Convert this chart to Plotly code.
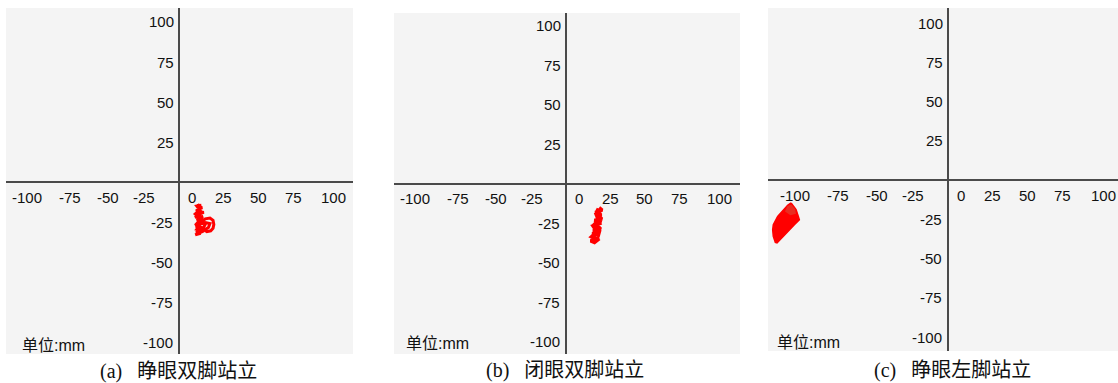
import plotly.graph_objects as go

W, H = 1118, 383

# Tick values shown along each axis
x_ticks = [-100, -75, -50, -25, 0, 25, 50, 75, 100]
y_ticks = [100, 75, 50, 25, -25, -50, -75, -100]

captions = ["(a)\u00a0\u00a0\u00a0睁眼双脚站立", "(b)\u00a0\u00a0\u00a0闭眼双脚站立", "(c)\u00a0\u00a0\u00a0睁眼左脚站立"]
unit_label = "单位:mm"

# (a) eyes open, both feet: centre-of-pressure path (mm)
a_x = [13.5, 11.5, 15.0, 11.0, 16.0, 12.0, 10.5, 15.5, 11.5, 16.5, 12.0, 10.5, 15.0, 16.5,
       11.0, 16.0, 12.5, 17.0, 20.0, 22.0, 22.5, 22.0, 20.5, 18.0, 16.5, 19.0, 20.0, 17.5,
       15.0, 11.0, 14.0, 10.5, 16.0, 11.5, 15.5, 10.5, 13.5, 11.5, 14.5]
a_y = [-14.0, -15.5, -16.0, -18.0, -19.0, -20.5, -22.0, -21.5, -24.0, -23.5, -25.5, -27.0,
       -26.0, -24.5, -28.5, -29.0, -27.5, -23.0, -22.5, -24.0, -26.5, -29.0, -30.5, -31.0,
       -30.0, -28.5, -26.0, -25.5, -30.0, -31.5, -32.0, -33.0, -30.5, -29.5, -24.0, -20.0,
       -17.5, -15.0, -14.5]

# (b) eyes closed, both feet
b_x = [21.5, 23.5, 19.0, 23.0, 19.5, 23.5, 18.5, 22.0, 23.0, 18.0, 21.0, 22.5, 17.5, 21.5,
       17.0, 21.0, 22.0, 16.5, 19.5, 21.5, 16.0, 18.5, 20.5, 17.0, 20.0, 17.5, 22.0, 19.5,
       22.5, 19.5]
b_y = [-15.0, -16.5, -18.0, -19.5, -21.0, -22.0, -23.0, -24.5, -21.0, -26.0, -27.0, -28.5,
       -29.5, -30.5, -31.5, -32.5, -29.0, -33.5, -35.0, -34.0, -36.0, -37.0, -35.5, -33.0,
       -30.0, -26.5, -25.0, -19.0, -17.5, -16.0]

# (c) eyes open, left foot: dense sway region outline
c_x = [-100.6, -97.4, -96.0, -95.3, -98.5, -101.7, -104.9, -108.1, -109.6, -110.7, -112.0,
       -112.4, -112.0, -109.2, -106.0, -102.8, -100.6]
c_y = [-14.6, -18.9, -23.1, -25.3, -28.5, -31.7, -34.8, -38.0, -40.1, -39.7, -35.9, -31.7,
       -28.5, -23.1, -19.9, -16.1, -14.6]
# overlapping darker patch near the top of (c)
c2_x = [-100.5, -98.0, -97.5, -101.0, -104.5, -103.0, -100.5]
c2_y = [-15.5, -18.5, -21.5, -22.5, -20.0, -16.5, -15.5]

# panel boxes in pixels: left, top, right, bottom, and axis ranges
panels = [
    dict(box=(6, 8, 353, 354), xr=(-111.6, 112.3), yr=(-107.5, 108.75)),
    dict(box=(394, 13, 740, 354), xr=(-111.7, 113.0), yr=(-107.6, 108.2)),
    dict(box=(768, 8, 1118, 351), xr=(-115.4, 109.0), yr=(-108.9, 109.6)),
]
caption_pos = [(178, 371), (565, 370), (952, 370)]
unit_pos = [(20, 345), (404, 343), (775, 342)]
x_label_shift = [3, 7, 7, 4, 13, 6, 2, -2, 0]

TICK_FONT = dict(family="Liberation Sans, Arial, sans-serif", size=15, color="#111111")
RED = "#ff0000"

fig = go.Figure()

paths = [(a_x, a_y, 3), (b_x, b_y, 3.5)]
for i, (px, py, lw) in enumerate(paths):
    sfx = "" if i == 0 else str(i + 1)
    fig.add_trace(go.Scatter(x=px, y=py, mode="lines", xaxis="x" + sfx, yaxis="y" + sfx,
                             line=dict(color=RED, width=lw),
                             showlegend=False, hoverinfo="skip"))

fig.add_trace(go.Scatter(x=c_x, y=c_y, mode="lines", fill="toself", fillcolor=RED,
                         line=dict(color=RED, width=1.5), xaxis="x3", yaxis="y3",
                         showlegend=False, hoverinfo="skip"))
fig.add_trace(go.Scatter(x=c2_x, y=c2_y, mode="lines", fill="toself",
                         fillcolor="rgba(200,110,80,0.4)", line=dict(width=0),
                         xaxis="x3", yaxis="y3", showlegend=False, hoverinfo="skip"))

layout = dict(width=W, height=H, margin=dict(l=0, r=0, t=0, b=0),
              paper_bgcolor="white", plot_bgcolor="#f4f4f4", showlegend=False)

annotations = []
for i, p in enumerate(panels):
    l, t, r, b = p["box"]
    sfx = "" if i == 0 else str(i + 1)
    axis_common = dict(showgrid=False, showticklabels=False, ticks="", showline=False,
                       zeroline=True, zerolinecolor="#4a4a4a", zerolinewidth=1.5,
                       fixedrange=True)
    layout["xaxis" + sfx] = dict(domain=[l / W, r / W], range=list(p["xr"]),
                                 anchor="y" + sfx, **axis_common)
    layout["yaxis" + sfx] = dict(domain=[1 - b / H, 1 - t / H], range=list(p["yr"]),
                                 anchor="x" + sfx, **axis_common)
    xref, yref = "x" + sfx, "y" + sfx
    for v, sh in zip(x_ticks, x_label_shift):
        annotations.append(dict(x=v, y=0, xref=xref, yref=yref, text=str(v),
                                showarrow=False, xanchor="center", yanchor="middle",
                                xshift=sh, yshift=-15, font=TICK_FONT))
    for v in y_ticks:
        annotations.append(dict(x=0, y=v, xref=xref, yref=yref, text=str(v),
                                showarrow=False, xanchor="right", yanchor="middle",
                                xshift=-3 if v > 0 else -4, font=TICK_FONT))
    ux, uy = unit_pos[i]
    annotations.append(dict(x=ux / W, y=1 - uy / H, xref="paper", yref="paper",
                            text=unit_label, showarrow=False, xanchor="left",
                            yanchor="middle",
                            font=dict(family="Liberation Sans, Noto Sans CJK SC, sans-serif",
                                      size=16, color="#111111")))
    cx, cy = caption_pos[i]
    annotations.append(dict(x=cx / W, y=1 - cy / H, xref="paper", yref="paper",
                            text=captions[i], showarrow=False, xanchor="center",
                            yanchor="middle",
                            font=dict(family="Liberation Serif, Noto Sans CJK SC, serif",
                                      size=20, color="#111111")))

layout["annotations"] = annotations
fig.update_layout(**layout)

fig.write_html("out.html", config=dict(displayModeBar=False, staticPlot=True))
